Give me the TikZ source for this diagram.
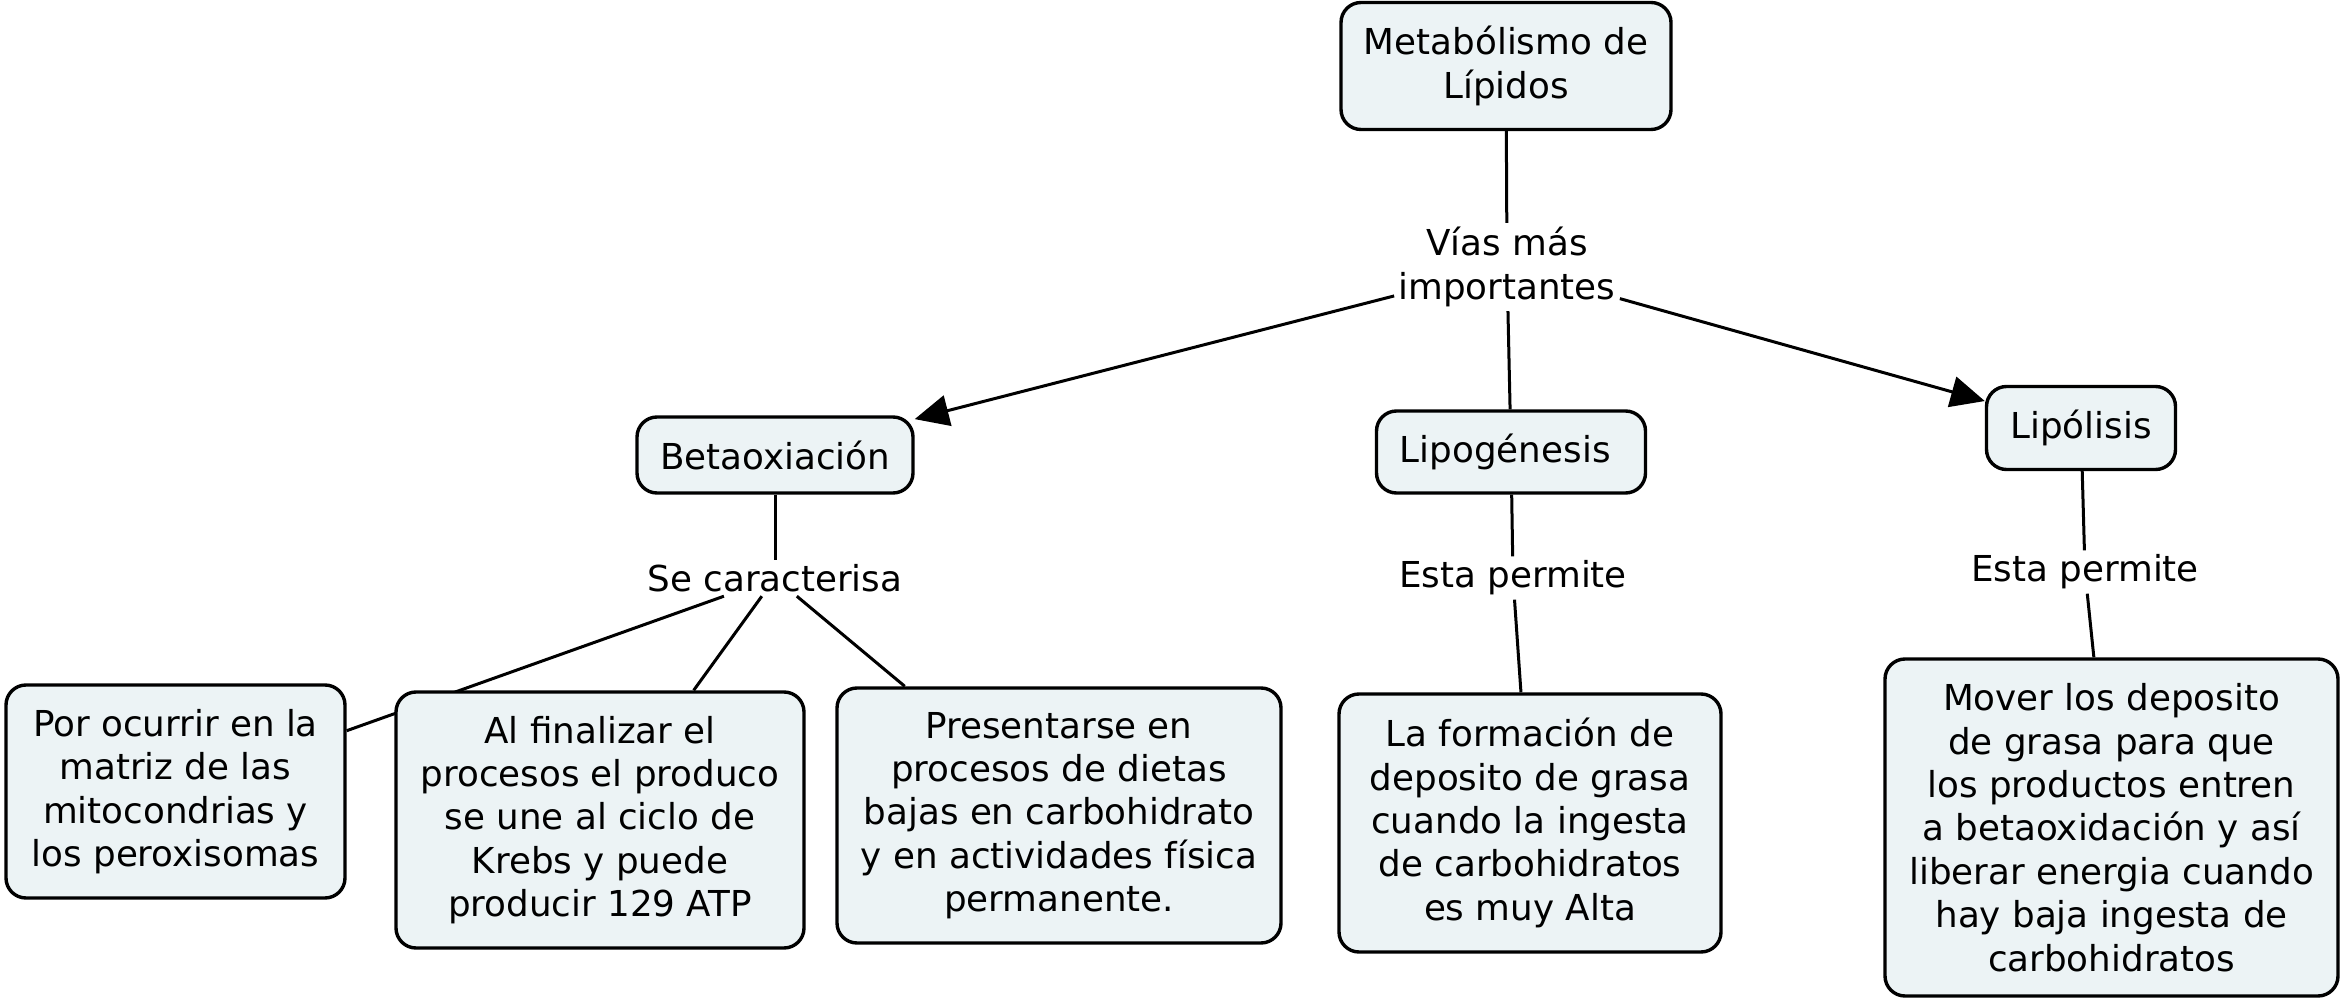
\documentclass[tikz,border=0pt]{standalone}
\usepackage{fontspec}
\setmainfont{DejaVu Sans}
\usetikzlibrary{arrows.meta,backgrounds}
\definecolor{fondocaja}{RGB}{236,243,245}
\begin{document}
\begin{tikzpicture}[x=0.5pt,y=-0.5pt,
  caja/.style={draw,line width=1.7pt,rounded corners=10pt,fill=fondocaja,align=center,inner sep=0pt,font=\fontsize{17.85}{21.7}\selectfont},
  enlace/.style={align=center,inner sep=2pt,font=\fontsize{17.85}{21.7}\selectfont},
  linea/.style={line width=1.5pt},
  flecha/.style={line width=1.5pt,-{Triangle[length=17pt,width=15.5pt]}}]
\useasboundingbox (0,0) rectangle (2344,1004);
\node[caja,minimum width=165pt,minimum height=63.5pt](raiz) at (1506,66) {Metabólismo de\\Lípidos};
\node[enlace](vias) at (1507,267) {Vías más\\importantes};
\node[caja,minimum width=138pt,minimum height=38pt](beta) at (775,455) {Betaoxiación};
\node[caja,minimum width=134.5pt,minimum height=41pt](lipog) at (1511,452) {Lipogénesis\kern0.32em};
\node[caja,minimum width=94.5pt,minimum height=41.5pt](lipol) at (2081,428) {Lipólisis};
\node[enlace](secar) at (775,578) {Se caracterisa};
\node[enlace](permA) at (1513,578) {Esta permite};
\node[enlace](permB) at (2085,572) {Esta permite};
\node[caja,minimum width=169.5pt,minimum height=106.5pt](ocurrir) at (175.5,791.5) {Por ocurrir en la\\matriz de las\\mitocondrias y\\los peroxisomas};
\node[caja,minimum width=204pt,minimum height=128pt](finalizar) at (600,820) {Al finalizar el\\procesos el produco\\se une al ciclo de\\Krebs y puede\\producir 129 ATP};
\node[caja,minimum width=222pt,minimum height=127.5pt](dietas) at (1059,815.5) {Presentarse en\\procesos de dietas\\bajas en carbohidrato\\y en actividades física\\permanente.};
\node[caja,minimum width=191pt,minimum height=129pt](grasa) at (1530,823) {La formación de\\deposito de grasa\\cuando la ingesta\\de carbohidratos\\es muy Alta};
\node[caja,minimum width=226.5pt,minimum height=168.5pt](mover) at (2111.5,827.5) {Mover los deposito\\de grasa para que\\los productos entren\\a betaoxidación y así\\liberar energia cuando\\hay baja ingesta de\\carbohidratos};
\begin{scope}[on background layer]
\fill[white](0,0) rectangle (2344,1004);
\draw[linea](raiz)--(vias);
\draw[flecha](vias)--(beta);
\draw[linea](vias)--(lipog);
\draw[flecha](vias)--(lipol);
\draw[linea](beta)--(secar);
\draw[linea](secar)--(ocurrir);
\draw[linea](secar)--(finalizar);
\draw[linea](secar)--(dietas);
\draw[linea](lipog)--(permA);
\draw[linea](permA)--(grasa);
\draw[linea](lipol)--(permB);
\draw[linea](permB)--(mover);
\end{scope}
\end{tikzpicture}
\end{document}
